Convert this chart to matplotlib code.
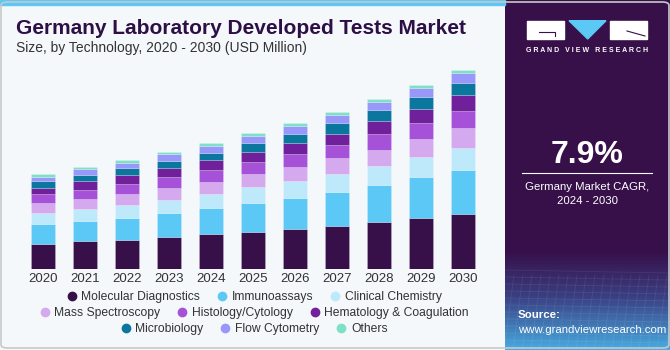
import numpy as np
import matplotlib
matplotlib.use('Agg')
import matplotlib.pyplot as plt
from matplotlib.patches import Rectangle, Polygon, FancyBboxPatch
from matplotlib.lines import Line2D
from matplotlib.colors import LinearSegmentedColormap

years = [2020, 2021, 2022, 2023, 2024, 2025, 2026, 2027, 2028, 2029, 2030]

molecular = [25.0, 28.0, 29.3, 32.0, 35.0, 37.0, 40.0, 43.0, 47.0, 51.3, 55.6]
immuno = [20.0, 20.7, 22.3, 24.7, 26.0, 29.3, 31.7, 34.3, 37.3, 40.7, 43.7]
clinical = [11.3, 11.3, 12.7, 13.0, 14.0, 16.0, 16.7, 18.0, 19.0, 20.3, 22.3]
mass = [9.7, 10.3, 11.0, 11.3, 12.3, 13.3, 14.3, 16.0, 16.0, 18.0, 19.7]
histology = [9.3, 9.3, 10.0, 11.3, 12.3, 11.7, 12.7, 13.3, 16.0, 16.3, 17.3]
hematology = [6.3, 8.7, 8.7, 8.7, 9.3, 9.7, 10.7, 11.0, 12.7, 14.0, 15.3]
micro = [6.3, 6.3, 7.3, 7.7, 7.7, 9.7, 9.7, 11.0, 11.3, 12.0, 12.7]
flow = [4.7, 5.3, 5.3, 6.3, 7.0, 7.0, 8.0, 8.0, 8.3, 9.0, 10.0]
others = [2.7, 2.7, 2.7, 2.3, 2.3, 2.7, 2.7, 3.0, 2.7, 2.7, 2.7]

segments = ['Molecular Diagnostics', 'Immunoassays', 'Clinical Chemistry',
            'Mass Spectroscopy', 'Histology/Cytology', 'Hematology & Coagulation',
            'Microbiology', 'Flow Cytometry', 'Others']
series = [molecular, immuno, clinical, mass, histology, hematology, micro, flow, others]
colors = ['#37104a', '#5bc8f5', '#bde9fa', '#d5a9ed', '#a652d8',
          '#71209c', '#0b779e', '#9a97fb', '#7fe0c8']

plt.rcParams['font.family'] = ['Liberation Sans', 'DejaVu Sans']

W, H = 670, 350
fig = plt.figure(figsize=(6.7, 3.5), dpi=100)
fig.patch.set_facecolor('#f4f8fb')

def fx(px):
    return px / W

def fy(py):
    return 1 - py / H

# top strip
fig.patches.append(Rectangle((0, fy(5)), fx(505), 5 / H, transform=fig.transFigure,
                             color='#5bc8f5', zorder=0))

# bars
ax = fig.add_axes([fx(17.8), fy(269.3), fx(470.4), 210 / H])
ax.set_facecolor('none')
x = np.arange(len(years))
bottom = np.zeros(len(years))
for name, vals, c in zip(segments, series, colors):
    ax.bar(x, vals, 0.58, bottom=bottom, color=c, label=name,
           edgecolor='#ffffff55', linewidth=0.4)
    bottom += np.array(vals)
ax.set_xlim(-0.6, 10.6)
ax.set_ylim(0, 210)
ax.set_xticks(x)
ax.set_xticklabels([str(y) for y in years], fontsize=9.5, color='#333333')
ax.tick_params(axis='x', length=0, pad=3)
ax.set_yticks([])
for s in ax.spines.values():
    s.set_visible(False)

# title
fig.text(fx(16), fy(28), 'Germany Laboratory Developed Tests Market', fontsize=15,
         fontweight='bold', color='#2d0f45', va='center', ha='left')
fig.text(fx(16), fy(48), 'Size, by Technology, 2020 - 2030 (USD Million)', fontsize=10,
         color='#333333', va='center', ha='left')

# legend rows
rows = [[0, 1, 2], [3, 4, 5], [6, 7, 8]]
row_y = [297, 313, 329]
for r, yy in zip(rows, row_y):
    handles = [Line2D([], [], marker='o', ls='', markersize=6, color=colors[i],
                      label=segments[i]) for i in r]
    leg = fig.legend(handles=handles, loc='center', bbox_to_anchor=(fx(253), fy(yy)),
                     ncol=3, frameon=False, fontsize=8.7, handletextpad=0.2,
                     columnspacing=1.2, handlelength=1.2, borderpad=0)
    for t in leg.get_texts():
        t.set_color('#333333')

# right panel
pax = fig.add_axes([fx(505), 0, fx(165), 1])
pax.set_xlim(0, 165)
pax.set_ylim(350, 0)
pax.axis('off')
cmap = LinearSegmentedColormap.from_list('panel', [(0, '#37104a'), (0.72, '#37104a'),
                                                   (0.85, '#3a3f82'), (1, '#47a9e0')])
grad = np.linspace(0, 1, 350).reshape(-1, 1)
pax.imshow(grad, cmap=cmap, aspect='auto', extent=[0, 165, 350, 0], zorder=0)
for k in range(12):
    yy = 270 + k * 7
    pax.plot([0, 165], [yy, yy + 3], color='white', alpha=0.08, lw=0.6)
for k in range(20):
    xx = k * 9
    pax.plot([xx, xx - 10], [275, 350], color='white', alpha=0.08, lw=0.6)

# logo
pax.add_patch(Rectangle((22, 20.7), 37, 18.3, color='white'))
pax.plot([34, 50, 50], [32, 32, 36], color='#37104a', lw=0.8)
pax.add_patch(Polygon([[64, 20.7], [101, 20.7], [82.7, 39]], closed=True, color='#5bc8f5'))
pax.add_patch(Rectangle((105, 20.7), 37, 18.3, color='white'))
pax.plot([122, 140], [31, 36], color='#37104a', lw=0.8)
pax.text(82.5, 51, 'G R A N D   V I E W   R E S E A R C H', fontsize=5.0,
         fontweight='bold', color='white', ha='center', va='center')

pax.text(82.5, 155, '7.9%', fontsize=23, fontweight='bold', color='white',
         ha='center', va='center')
pax.plot([17, 147], [173.3, 173.3], color='white', lw=0.8)
pax.text(82.5, 186.5, 'Germany Market CAGR,', fontsize=8.2, color='white',
         ha='center', va='center')
pax.text(82.5, 201.5, '2024 - 2030', fontsize=8.2, color='white',
         ha='center', va='center')
pax.text(13, 315.5, 'Source:', fontsize=8.2, fontweight='bold', color='white',
         ha='left', va='center')
pax.text(13, 330, 'www.grandviewresearch.com', fontsize=8.2, color='white',
         ha='left', va='center')

# outer border
fig.patches.append(FancyBboxPatch((fx(1), fy(348)), fx(668), 346 / H,
                                  boxstyle='round,pad=0,rounding_size=0.01',
                                  transform=fig.transFigure, fill=False,
                                  edgecolor='#c8c8c8', lw=1.2, zorder=10))

fig.savefig('out.png', dpi=100, facecolor=fig.get_facecolor())
plt.close()
